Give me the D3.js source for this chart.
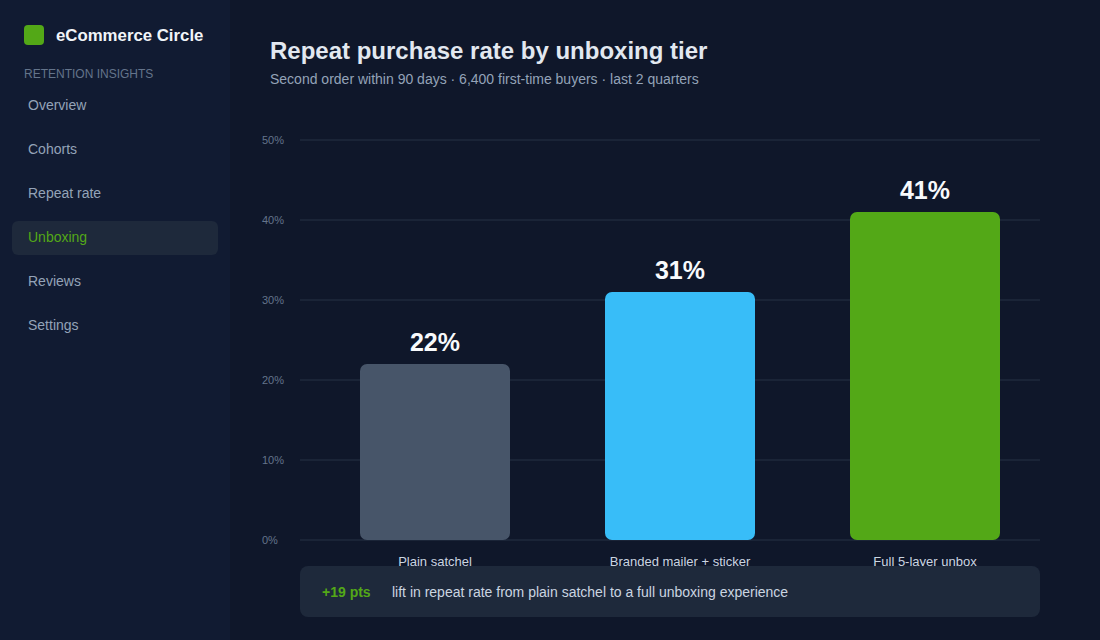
<!DOCTYPE html>
<html><head><meta charset="utf-8">
<script src="https://cdn.jsdelivr.net/npm/d3@7"></script>
<style>
html,body{margin:0;padding:0;background:#0f172a;}
svg{display:block;font-family:"Liberation Sans",Arial,Helvetica,sans-serif;}
</style></head>
<body><svg id="c" width="1100" height="640"></svg>
<script>
const categories = ["Plain satchel", "Branded mailer + sticker", "Full 5-layer unbox"];
const repeatRate = [22, 31, 41];
const barColors = ["#475569", "#38bdf8", "#53a817"];
const yTicks = [0, 10, 20, 30, 40, 50];
const navItems = ["Overview", "Cohorts", "Repeat rate", "Unboxing", "Reviews", "Settings"];
const activeNav = "Unboxing";

const svg = d3.select("#c");
svg.append("rect").attr("width",1100).attr("height",640).attr("fill","#0f172a");

// Sidebar
const side = svg.append("g");
side.append("rect").attr("width",230).attr("height",640).attr("fill","#111b32");
side.append("rect").attr("x",24).attr("y",25).attr("width",20).attr("height",20).attr("rx",4).attr("fill","#53a817");
side.append("text").attr("x",56).attr("y",41).attr("fill","#f1f5f9").attr("font-size",16.8).attr("font-weight","bold").text("eCommerce Circle");
side.append("text").attr("x",24).attr("y",78).attr("fill","#64748b").attr("font-size",12).text("RETENTION INSIGHTS");
navItems.forEach((n,i)=>{
  const y = 105 + i*44;
  if (n === activeNav) {
    side.append("rect").attr("x",12).attr("y",y-16).attr("width",206).attr("height",34).attr("rx",6).attr("fill","#1e293b");
  }
  side.append("text").attr("x",28).attr("y",y+5).attr("fill", n===activeNav ? "#53a817" : "#94a3b8").attr("font-size",14).text(n);
});

// Titles
svg.append("text").attr("x",270).attr("y",59).attr("fill","#e2e8f0").attr("font-size",24).attr("font-weight","bold").text("Repeat purchase rate by unboxing tier");
svg.append("text").attr("x",270).attr("y",84).attr("fill","#94a3b8").attr("font-size",14).text("Second order within 90 days · 6,400 first-time buyers · last 2 quarters");

// Scales
const y = d3.scaleLinear().domain([0,50]).range([540,140]);
const x = d3.scaleBand().domain(categories).range([300,1060]).paddingInner(95/245).paddingOuter(60/245);

// Grid
const grid = svg.append("g");
grid.selectAll("line").data(yTicks).join("line")
  .attr("x1",300).attr("x2",1040).attr("y1",d=>y(d)).attr("y2",d=>y(d))
  .attr("stroke","#1f2a3c").attr("stroke-width",1.5);
grid.selectAll("text").data(yTicks).join("text")
  .attr("x",262).attr("y",d=>y(d)+4).attr("fill","#64748b").attr("font-size",11).text(d=>d+"%");

// Bars
const data = categories.map((c,i)=>({c, v:repeatRate[i], col:barColors[i]}));
svg.append("g").selectAll("rect").data(data).join("rect")
  .attr("x",d=>x(d.c)).attr("width",x.bandwidth())
  .attr("y",d=>y(d.v)).attr("height",d=>y(0)-y(d.v))
  .attr("rx",7).attr("fill",d=>d.col);
svg.append("g").selectAll("text").data(data).join("text")
  .attr("x",d=>x(d.c)+x.bandwidth()/2).attr("y",d=>y(d.v)-13)
  .attr("text-anchor","middle").attr("fill","#f8fafc").attr("font-size",25).attr("font-weight","bold")
  .text(d=>d.v+"%");
svg.append("g").selectAll("text").data(data).join("text")
  .attr("x",d=>x(d.c)+x.bandwidth()/2).attr("y",566)
  .attr("text-anchor","middle").attr("fill","#cbd5e1").attr("font-size",13).text(d=>d.c);

// Callout
const lift = repeatRate[2]-repeatRate[0];
svg.append("rect").attr("x",300).attr("y",566).attr("width",740).attr("height",51).attr("rx",8).attr("fill","#1e293b");
svg.append("text").attr("x",322).attr("y",597).attr("fill","#53a817").attr("font-size",14).attr("font-weight","bold").text("+"+lift+" pts");
svg.append("text").attr("x",392).attr("y",597).attr("fill","#cbd5e1").attr("font-size",14).text("lift in repeat rate from plain satchel to a full unboxing experience");
</script></body></html>
